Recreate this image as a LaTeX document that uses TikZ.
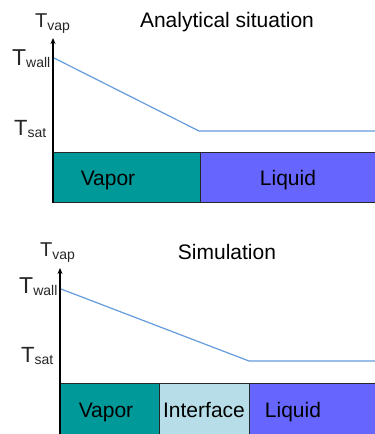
\documentclass[tikz,border=0pt]{standalone}
\usepackage{fontspec}
\setmainfont{Liberation Sans}
\usetikzlibrary{arrows.meta}
\definecolor{vapc}{RGB}{0,153,153}
\definecolor{liqc}{RGB}{102,102,255}
\definecolor{intc}{RGB}{183,222,232}
\definecolor{tline}{RGB}{100,155,220}
\definecolor{edgec}{RGB}{40,40,40}
\begin{document}
\begin{tikzpicture}[x=1pt,y=-1pt,
  lbl/.style={font=\fontsize{21}{21}\selectfont, text=black, inner sep=0pt, anchor=base},
  tlab/.style={font=\fontsize{20}{20}\selectfont, text=black!85, inner sep=0pt, anchor=base west},
  region/.style={draw=edgec, line width=1pt},
  axis/.style={draw=black, line width=1.2pt, -{Stealth[length=6pt,width=5pt]}},
  temp/.style={draw=tline, line width=1.2pt}]
\useasboundingbox (0,0) rectangle (375,434);
% ---------- top panel ----------
\path[region, fill=vapc] (53,152) rectangle (200,202);
\path[region, fill=liqc] (200,152) rectangle (376,202);
\node[lbl] (vap1) at (108,185) {Vapor};
\node[lbl] (liq1) at (288,185) {Liquid};
\coordinate (o1) at (53,203);
\coordinate (tip1) at (53,38);
\draw[axis] (o1) -- (tip1);
\coordinate (w1) at (54,58);
\coordinate (k1) at (199,131);
\coordinate (e1) at (376,131);
\draw[temp] (w1) -- (k1) -- (e1);
\node[lbl] (title1) at (227,27) {Analytical situation};
\node[tlab] (tv1) at (35,27) {T\raisebox{-3pt}{\fontsize{14}{14}\selectfont vap}};
\node[tlab] (tw1) at (12,65) {\fontsize{23}{23}\selectfont T\raisebox{-2pt}{\fontsize{14}{14}\selectfont wall}};
\node[tlab] (ts1) at (14,135) {\fontsize{22}{22}\selectfont T\raisebox{-2pt}{\fontsize{14}{14}\selectfont sat}};
% ---------- bottom panel ----------
\path[region, fill=vapc] (60,383) rectangle (159,436);
\path[region, fill=intc] (159,383) rectangle (249,436);
\path[region, fill=liqc] (249,383) rectangle (376,436);
\node[lbl] (vap2) at (106,417) {Vapor};
\node[lbl] (int2) at (204,417) {Interface};
\node[lbl] (liq2) at (293,417) {Liquid};
\coordinate (o2) at (60,436);
\coordinate (tip2) at (60,268);
\draw[axis] (o2) -- (tip2);
\coordinate (w2) at (61,289);
\coordinate (k2) at (249,361);
\coordinate (e2) at (376,361);
\draw[temp] (w2) -- (k2) -- (e2);
\node[lbl] (title2) at (227,259) {Simulation};
\node[tlab] (tv2) at (40,256) {T\raisebox{-3pt}{\fontsize{14}{14}\selectfont vap}};
\node[tlab] (tw2) at (19,293) {\fontsize{23}{23}\selectfont T\raisebox{-2pt}{\fontsize{14}{14}\selectfont wall}};
\node[tlab] (ts2) at (21,362) {\fontsize{22}{22}\selectfont T\raisebox{-2pt}{\fontsize{14}{14}\selectfont sat}};
\end{tikzpicture}
\end{document}
